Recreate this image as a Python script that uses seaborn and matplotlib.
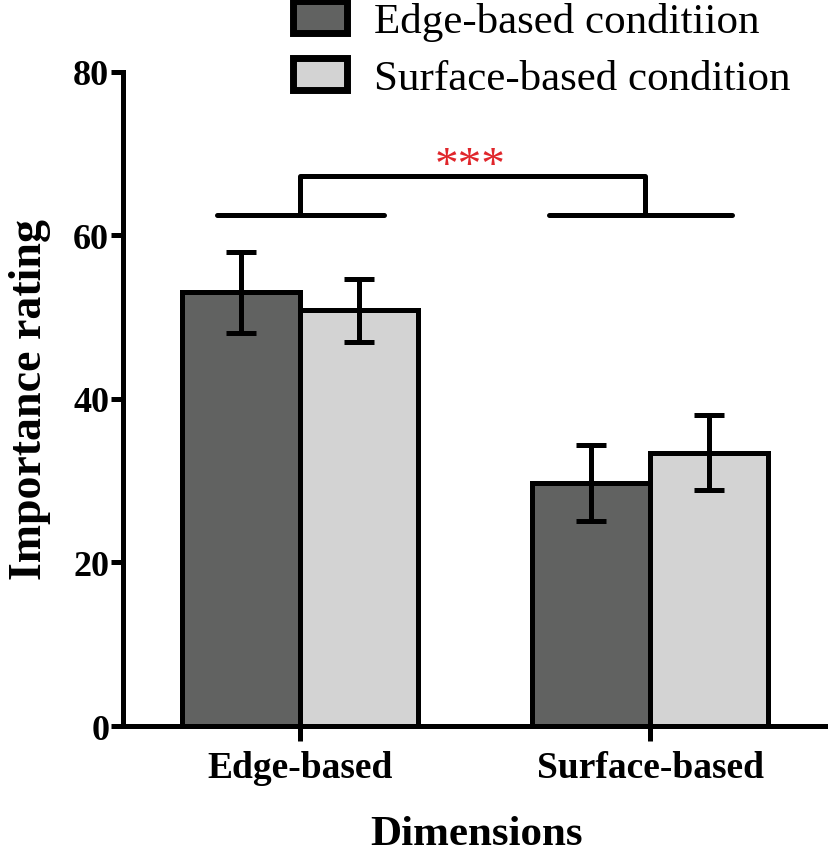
import matplotlib
matplotlib.use('Agg')
import matplotlib.pyplot as plt
import seaborn as sns
import pandas as pd

# values
dimensions = ['Edge-based', 'Surface-based']
conditions = ['Edge-based conditiion', 'Surface-based condition']
means_edge_cond = [53.0, 29.7]
means_surface_cond = [50.8, 33.4]
err_edge_cond = [5.0, 4.6]
err_surface_cond = [3.9, 4.6]
bar_colors = ['#616261', '#d3d3d3']
y_ticks = [0, 20, 40, 60, 80]

df = pd.DataFrame({
    'Dimensions': dimensions * 2,
    'Condition': [conditions[0]] * 2 + [conditions[1]] * 2,
    'Importance rating': means_edge_cond + means_surface_cond,
})

sns.set_style('ticks', {'axes.edgecolor': 'black', 'xtick.color': 'black',
                        'ytick.color': 'black', 'text.color': 'black',
                        'axes.labelcolor': 'black'})
plt.rcParams['font.family'] = ['Liberation Serif', 'DejaVu Serif']

fig = plt.figure(figsize=(8.29, 8.54), dpi=100)
ax = fig.add_axes([0.1484, 0.1487, 0.8516, 0.915 - 0.1487])

sns.barplot(data=df, x='Dimensions', y='Importance rating', hue='Condition',
            palette=bar_colors, width=0.674, edgecolor='black', linewidth=3.6,
            errorbar=None, ax=ax)

# error bars on top of the bars seaborn placed
for cont, errs in zip(ax.containers, [err_edge_cond, err_surface_cond]):
    xs = [b.get_x() + b.get_width() / 2 for b in cont]
    ys = [b.get_height() for b in cont]
    ax.errorbar(xs, ys, yerr=errs, fmt='none', ecolor='black', elinewidth=3.6,
                capsize=11, capthick=3.6, zorder=5)

# significance bracket
lw = 3.6
ax.plot([-0.237, 0.24], [62.5, 62.5], color='black', lw=lw)
ax.plot([0.711, 1.234], [62.5, 62.5], color='black', lw=lw)
ax.plot([0, 0, 0.986, 0.986], [62.5, 67.2, 67.2, 62.5], color='black', lw=lw)
ax.text(0.486, 65.8, '***', color='#e0262b', fontsize=34, ha='center', va='bottom')

ax.set_xlim(-0.506, 1.511)
ax.set_ylim(0, 80)
ax.set_yticks(y_ticks)
sns.despine(ax=ax)
for s in ['left', 'bottom']:
    ax.spines[s].set_linewidth(3.6)
ax.tick_params(axis='y', length=9, width=3.6, labelsize=26, pad=1)
ax.tick_params(axis='x', length=11, width=3.6, labelsize=27, pad=6)
for lab in ax.get_xticklabels() + ax.get_yticklabels():
    lab.set_fontweight('bold')

ax.set_xlabel('Dimensions', fontsize=31, fontweight='bold', labelpad=22)
ax.set_ylabel('Importance rating', fontsize=33, fontweight='bold', labelpad=16)

handles, labels = ax.get_legend_handles_labels()
leg = ax.legend(handles, labels, loc='upper left', bbox_to_anchor=(291 / 829, 1.0),
                bbox_transform=fig.transFigure, frameon=False, fontsize=31,
                handlelength=1.25, handleheight=0.75, handletextpad=0.62,
                labelspacing=0.4, borderaxespad=0, borderpad=0.05)
for p in leg.get_patches():
    p.set_linewidth(5)
    p.set_edgecolor('black')

fig.savefig('out.png', dpi=100)
